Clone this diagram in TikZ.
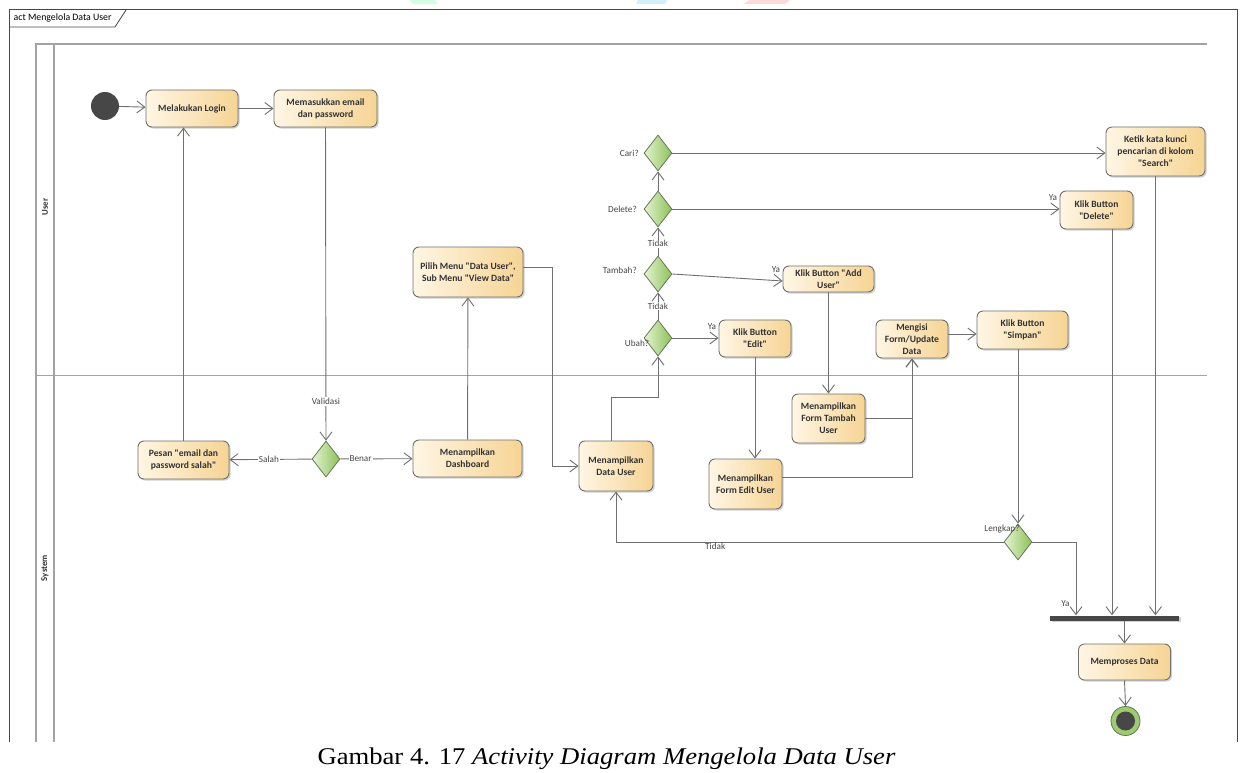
\documentclass[tikz,border=0pt]{standalone}
\usepackage{fontspec}
\usepackage{graphicx}
\usetikzlibrary{arrows.meta,shapes.geometric,shadows,calc}
\newfontfamily\diagfont{Carlito}[Ligatures=TeXOff]
\newfontfamily\capfont{Liberation Serif}
\definecolor{actL}{HTML}{FFF6E4}
\definecolor{actR}{HTML}{F6D494}
\definecolor{decL}{HTML}{E4F3D2}
\definecolor{decR}{HTML}{8CC257}
\definecolor{decB}{HTML}{66775A}
\definecolor{edgec}{HTML}{707070}
\definecolor{lanec}{HTML}{A3A3A3}
\definecolor{ink}{HTML}{333333}
\definecolor{darkc}{HTML}{474747}
\tikzset{
  action/.style={draw=edgec, line width=0.9pt, rounded corners=6pt,
    left color=actL, right color=actR, align=center,
    font=\diagfont\bfseries\fontsize{9.6}{12}\selectfont, text=ink, inner sep=0pt,
    drop shadow={shadow xshift=1.6pt, shadow yshift=-1.6pt, fill=black!30, opacity=0.6}},
  decision/.style={diamond, draw=decB, line width=0.8pt, left color=decL, right color=decR,
    minimum width=28pt, minimum height=36pt, inner sep=0pt},
  guard/.style={font=\diagfont\fontsize{9.2}{11}\selectfont, text=darkc, inner sep=1pt},
  yalabel/.style={guard, pos=1, anchor=south east, xshift=-1pt, yshift=7pt},
  flow/.style={draw=edgec, line width=0.9pt,
    -{Straight Barb[length=8pt,width=12pt,line width=0.9pt]}},
  lane/.style={draw=lanec, line width=1.8pt},
  frame/.style={draw=darkc, line width=1pt},
  lanelabel/.style={font=\diagfont\bfseries\fontsize{8.8}{10}\selectfont, text=ink, rotate=90},
}
\begin{document}
\begin{tikzpicture}[x=1pt,y=-1pt]
\useasboundingbox (0,0) rectangle (1243,773);
\fill[white] (0,0) rectangle (1243,773);

% faint header marks along the top edge
\fill[green!60!cyan!18] (410,0) -- (435,0) -- (438,4) -- (413,4) -- cycle;
\fill[cyan!18] (638,0) -- (667,0) -- (665,4) -- (636,4) -- cycle;
\fill[red!15] (750,0) -- (790,0) -- (785,4) -- (743,4) -- cycle;

% diagram frame and title tab
\draw[frame] (9,742) -- (9,9.5) -- (1237,9.5) -- (1237,742);
\draw[frame, line width=0.8pt] (9,27) -- (115,27) -- (126,10);
\node[font=\diagfont\fontsize{9.8}{11}\selectfont, text=black, anchor=west, inner sep=0pt] (title) at (13.5,18) {act Mengelola Data User};

% swimlanes
\draw[lane] (36,742) -- (36,44) -- (1207,44);
\draw[lane] (54,44) -- (54,742);
\draw[lane] (36,375.5) -- (1207,375.5);
\node[lanelabel] (laneuser) at (45,207) {User};
\node[lanelabel] (lanesys) at (45,568) {System};

% initial node
\node[circle, fill=darkc, minimum size=28pt, inner sep=0pt] (start) at (105,106) {};

% actions
\node[action, minimum width=92pt, minimum height=37pt] (login) at (192,108.5) {Melakukan Login};
\node[action, minimum width=103pt, minimum height=37pt] (mem) at (325.5,108.5) {Memasukkan email\\dan password};
\node[action, minimum width=110pt, minimum height=50pt] (pilih) at (468,272) {Pilih Menu "Data User",\\Sub Menu "View Data"};
\node[action, minimum width=91pt, minimum height=26pt] (add) at (828.5,279) {Klik Button "Add\\User"};
\node[action, minimum width=72pt, minimum height=37pt] (edit) at (755,338.5) {Klik Button\\"Edit"};
\node[action, minimum width=99pt, minimum height=49pt] (ketik) at (1155.5,151.5) {Ketik kata kunci\\pencarian di kolom\\"Search"};
\node[action, minimum width=73pt, minimum height=38pt] (kdel) at (1096.5,210) {Klik Button\\"Delete"};
\node[action, minimum width=72pt, minimum height=38pt] (isi) at (912,339) {Mengisi\\Form/Update\\Data};
\node[action, minimum width=91pt, minimum height=38pt] (simpan) at (1022.5,330) {Klik Button\\"Simpan"};
\node[action, minimum width=91pt, minimum height=38pt] (pesan) at (183.5,460) {Pesan "email dan\\password salah"};
\node[action, minimum width=109pt, minimum height=37pt] (dash) at (467.5,458.5) {Menampilkan\\Dashboard};
\node[action, minimum width=74pt, minimum height=50pt] (duser) at (616,466) {Menampilkan\\Data User};
\node[action, minimum width=73pt, minimum height=49pt] (ftam) at (828.5,418.5) {Menampilkan\\Form Tambah\\User};
\node[action, minimum width=73pt, minimum height=50pt] (fedit) at (745.5,484) {Menampilkan\\Form Edit User};
\node[action, minimum width=92pt, minimum height=36pt] (proses) at (1124.5,662) {Memproses Data};

% decisions
\node[decision] (cari) at (658,153) {};
\node[decision] (del) at (658,209) {};
\node[decision] (tam) at (658,274) {};
\node[decision] (ubah) at (658,338) {};
\node[decision] (val) at (326,459) {};
\node[decision] (lengkap) at (1018,542) {};

% join bar
\node[fill=darkc, minimum width=129pt, minimum height=5pt, inner sep=0pt,
  drop shadow={shadow xshift=1.5pt, shadow yshift=-1.5pt, fill=black!30, opacity=0.6}] (join) at (1114.5,618) {};

% final node
\node[circle, draw=decB, line width=0.8pt, fill=decR!85!white, minimum size=29pt, inner sep=0pt] (final) at (1125.5,721) {};
\node[circle, fill=darkc, minimum size=19pt, inner sep=0pt] (finalin) at (final.center) {};

% control flows
\draw[flow] (start) -- (login);
\draw[flow] (login) -- (mem);
\draw[flow] (mem) -- node[guard, fill=white, pos=0.875] {Validasi} (val);
\draw[flow] (val) -- node[guard, fill=white, pos=0.52] {Salah} (pesan);
\draw[flow] (val) -- node[guard, fill=white, pos=0.28] {Benar} (dash);
\draw[flow] (pesan.north) -- (pesan.north |- login.south);
\draw[flow] (dash) -- (pilih);
\draw[flow] ([yshift=5pt]pilih.east) -- ++(29,0) |- (duser.west);
\draw[flow] ([xshift=-5pt]duser.north) -- ++(0,-43) -| (ubah.south);
\draw[flow] (ubah) -- node[guard, fill=white, pos=0.5] {Tidak} (tam);
\draw[flow] (tam) -- node[guard, fill=white, pos=0.42] {Tidak} (del);
\draw[flow] (del) -- (cari);
\draw[flow] (cari) -- (cari -| ketik.west);
\draw[flow] (del) -- (del -| kdel.west) node[yalabel] {Ya};
\draw[flow] (tam.east) -- ([yshift=-2pt]add.west) node[yalabel] {Ya};
\draw[flow] (ubah) -- (ubah -| edit.west) node[yalabel] {Ya};
\draw[flow] (add) -- (ftam);
\draw[flow] (edit.south) -- (edit.south |- fedit.north);
\draw[flow] (ftam.east) -| (isi.south);
\draw[flow] ([yshift=7pt]fedit.east) -| (isi.south);
\draw[flow] ([yshift=5pt]isi.east) -- ([yshift=5pt]isi.east -| simpan.west);
\draw[flow] (lengkap.north |- simpan.south) -- (lengkap.north);
\draw[flow] (lengkap.west) -| node[guard, pos=0.372, anchor=north, inner sep=0.5pt] {Tidak} (duser.south);
\draw[flow] (lengkap.east) -| ([xshift=-38.5pt]join.north) node[guard, pos=1, anchor=south east, xshift=-5pt, yshift=7pt] {Ya};
\draw[flow] ([xshift=15.5pt]kdel.south) -- ([xshift=15.5pt]kdel.south |- join.north);
\draw[flow] (ketik.south) -- (ketik.south |- join.north);
\draw[flow] (proses.north |- join.south) -- (proses.north);
\draw[flow] (proses.south) -- (final.north);

% guard labels drawn over the decision nodes
\node[guard, anchor=east] (lcari) at (640,153) {Cari?};
\node[guard, anchor=east] (ldel) at (638,209) {Delete?};
\node[guard, anchor=east] (ltam) at (638,270) {Tambah?};
\node[guard] (lubah) at (637,343) {Ubah?};
\node[guard] (lleng) at (1002,529) {Lengkap?};

% caption
\node[inner sep=0pt] (caption) at (606.5,759) {\scalebox{1.11}[1]{\capfont\fontsize{24}{28}\selectfont Gambar 4. 17 \textit{Activity Diagram Mengelola Data User}}};
\end{tikzpicture}
\end{document}
